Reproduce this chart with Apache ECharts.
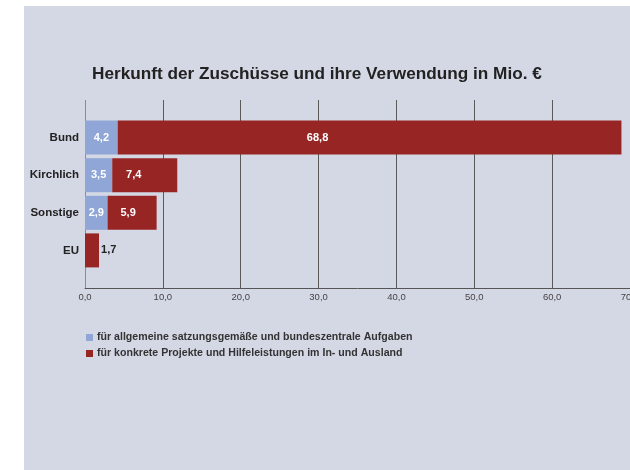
<!DOCTYPE html>
<html>
<head>
<meta charset="utf-8">
<script src="https://cdn.jsdelivr.net/npm/echarts@6/dist/echarts.min.js"></script>
<style>
  html, body { margin: 0; padding: 0; background: #ffffff; }
  #wrap { position: relative; width: 630px; height: 470px; background: #ffffff; overflow: hidden; }
  #panel { position: absolute; left: 24px; top: 6px; right: 0; bottom: 0; background: #d4d8e5; }
  #chart { position: absolute; left: 0; top: 0; width: 630px; height: 470px; }
</style>
</head>
<body>
<div id="wrap"><div id="panel"></div><div id="chart"></div></div>
<script>
// Categories (top to bottom)
const categories = ['Bund', 'Kirchlich', 'Sonstige', 'EU'];
// Bar segment lengths as drawn in the picture (Mio. €)
const generalValues = [4.2, 3.5, 2.9, 0];
const projectValues = [64.7, 8.35, 6.3, 1.8];
// Printed value labels
const generalLabels = ['4,2', '3,5', '2,9', ''];
const projectLabels = ['68,8', '7,4', '5,9', '1,7'];
// Axis ticks
const xTicks = [0, 10, 20, 30, 40, 50, 60, 70];
const seriesNames = [
  'für allgemeine satzungsgemäße und bundeszentrale Aufgaben',
  'für konkrete Projekte und Hilfeleistungen im In- und Ausland'
];

const FONT = '"Liberation Sans", Arial, Helvetica, sans-serif';
const BLUE = '#8fa6d6';
const RED = '#962524';

// label placement styles (shift in px from segment centre)
const projectLabelShift = [-52, -11, -4, 0];

const cats = [''].concat(categories, ['']);
function pad(arr) { return ['-'].concat(arr, ['-']); }

const blueData = pad(generalValues.map((v, i) => ({
  value: v,
  label: { formatter: generalLabels[i] }
})));
const redData = pad(projectValues.map((v, i) => {
  if (i === 3) {
    return { value: v, label: { position: 'right', distance: 2, color: '#222', formatter: projectLabels[i] } };
  }
  return { value: v, label: { position: 'inside', offset: [projectLabelShift[i], 0], formatter: projectLabels[i] } };
}));

const chart = echarts.init(document.getElementById('chart'), null, { renderer: 'canvas' });
chart.setOption({
  backgroundColor: 'transparent',
  animation: false,
  textStyle: { fontFamily: FONT },
  title: {
    text: 'Herkunft der Zuschüsse und ihre Verwendung in Mio. €',
    left: 92, top: 66, padding: 0,
    textStyle: { fontFamily: FONT, fontSize: 17.2, fontWeight: 'bold', color: '#222' }
  },
  legend: {
    orient: 'vertical',
    left: 86, top: 329.5, padding: 0,
    itemGap: 0, itemWidth: 7, itemHeight: 7,
    icon: 'rect',
    data: seriesNames,
    textStyle: { fontFamily: FONT, fontSize: 10.6, fontWeight: 'bold', color: '#333', lineHeight: 16, padding: [0, 0, 0, -1] }
  },
  grid: { left: 85, right: 0, top: 100, height: 188, containLabel: false, outerBoundsMode: 'none' },
  xAxis: {
    type: 'value', min: xTicks[0], max: xTicks[xTicks.length - 1], interval: 10,
    axisLine: { show: true, lineStyle: { color: '#555', width: 1 } },
    axisTick: { show: false },
    splitLine: { show: true, lineStyle: { color: ['#8c8c8c', '#5a5a5a', '#5a5a5a', '#5a5a5a', '#5a5a5a', '#5a5a5a', '#5a5a5a', '#5a5a5a'], width: 1 } },
    axisLabel: {
      margin: 4, fontSize: 9.5, color: '#444', fontFamily: FONT,
      formatter: v => v.toFixed(1).replace('.', ',')
    }
  },
  yAxis: {
    type: 'category', data: cats, inverse: true, boundaryGap: false,
    axisLine: { show: false }, axisTick: { show: false }, splitLine: { show: false },
    axisLabel: { margin: 6, fontSize: 11.5, fontWeight: 'bold', color: '#222', fontFamily: FONT }
  },
  series: [
    {
      name: seriesNames[0], type: 'bar', stack: 'total', barWidth: 34,
      itemStyle: { color: BLUE },
      label: { show: true, position: 'inside', color: '#fff', fontSize: 11, fontWeight: 'bold', fontFamily: FONT },
      data: blueData
    },
    {
      name: seriesNames[1], type: 'bar', stack: 'total', barWidth: 34,
      itemStyle: { color: RED },
      label: { show: true, position: 'inside', color: '#fff', fontSize: 11, fontWeight: 'bold', fontFamily: FONT },
      data: redData
    }
  ]
});
</script>
</body>
</html>
